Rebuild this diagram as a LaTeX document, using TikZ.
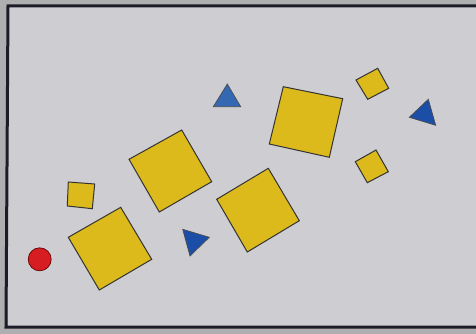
\documentclass[tikz,border=0pt]{standalone}
\usepackage{tikz}

\definecolor{cardgray}{RGB}{206,206,210}
\definecolor{bggray}{RGB}{175,175,178}
\definecolor{framecol}{RGB}{28,28,40}
\definecolor{sqyellow}{RGB}{220,186,28}
\definecolor{triblue}{RGB}{28,78,168}
\definecolor{triblueL}{RGB}{52,104,178}
\definecolor{dotred}{RGB}{214,30,34}

\begin{document}
\begin{tikzpicture}[
  x=1pt, y=-1pt,
  sq/.style={fill=sqyellow, draw=black!80, line width=1pt, line join=miter},
  tri/.style={fill=triblue, draw=black!70, line width=0.7pt},
  dot/.style={fill=dotred, draw=black!60!red, line width=0.7pt}
]
\useasboundingbox (0,0) rectangle (476,334);
\fill[bggray] (0,0) rectangle (476,334);
\fill[cardgray] (8,6) rectangle (476,327);
\draw[framecol, line width=3pt] (476,6) -- (8,6) -- (6,327) -- (476,327);

% squares
\draw[sq] (68.3,237.3) -- (120.7,207.3) -- (151.7,259.3) -- (99.3,290) -- cycle;
\draw[sq] (68.3,182) -- (94.7,184) -- (92.3,208.7) -- (67.3,206) -- cycle;
\draw[sq] (129,159.3) -- (181.7,130) -- (211.7,181.7) -- (159.3,212) -- cycle;
\draw[sq] (216.7,199.3) -- (268.3,168.3) -- (299.3,220.7) -- (247.3,252) -- cycle;
\draw[sq] (283.3,86.7) -- (342.7,98.7) -- (329.3,157.3) -- (269.3,144) -- cycle;
\draw[sq] (356,80) -- (377.7,68.3) -- (388.7,88.3) -- (367.7,99.3) -- cycle;
\draw[sq] (355.3,161.7) -- (376,150) -- (388.3,171.7) -- (367.3,182.7) -- cycle;

% triangles
\draw[tri] (182.7,229.3) -- (209.3,237.3) -- (190,256) -- cycle;
\draw[tri, fill=triblueL] (227.3,84) -- (240.7,106.7) -- (213.3,106.7) -- cycle;
\draw[tri] (428.3,99.3) -- (435.7,125.3) -- (409.3,117.3) -- cycle;

% circle
\draw[dot] (39.7,259.3) circle (11.5);
\end{tikzpicture}
\end{document}
